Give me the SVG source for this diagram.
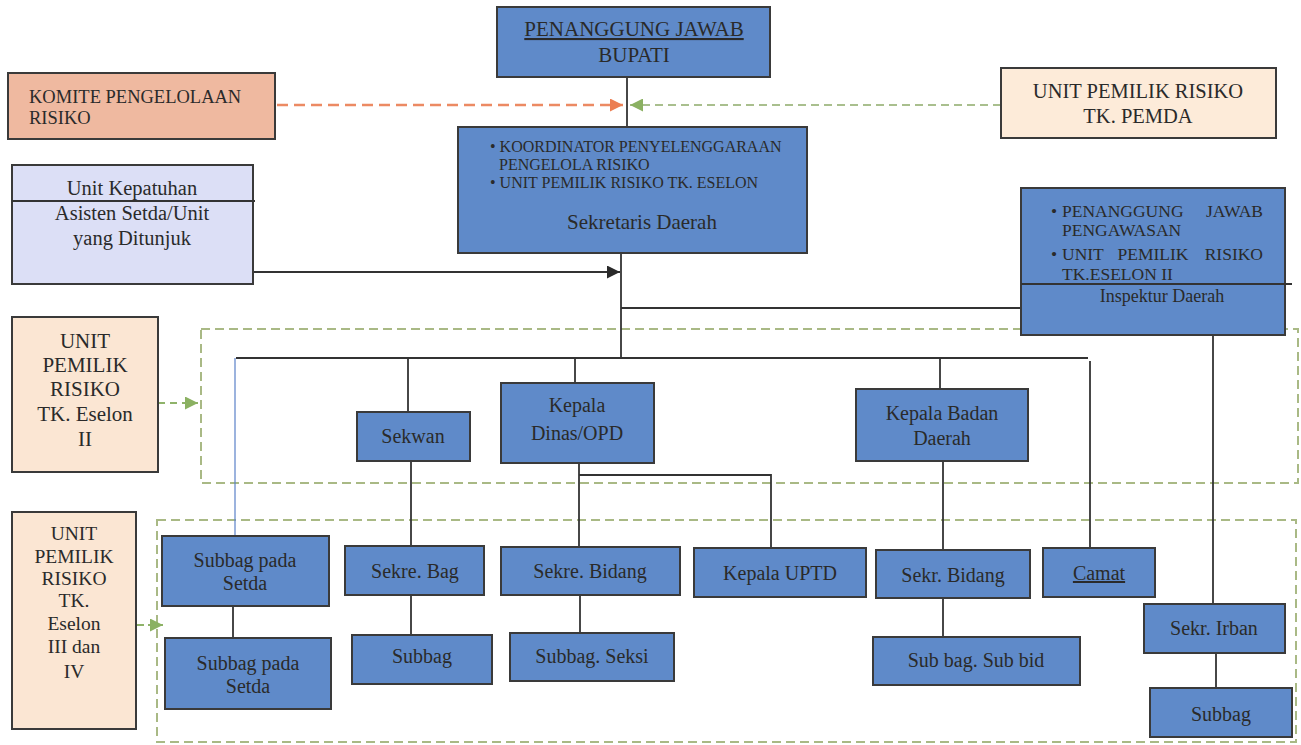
<svg xmlns="http://www.w3.org/2000/svg" width="1301" height="745" viewBox="0 0 1301 745" font-family="'Liberation Serif','Times New Roman',serif">
<defs>
<style>
.bx{fill:#5f8ac9;stroke:#3a3a3a;stroke-width:2}
.pe{fill:#fbe6d3;stroke:#3a3a3a;stroke-width:2}
.ln{fill:none;stroke:#333;stroke-width:1.8}
.rg{fill:none;stroke:#a9b985;stroke-width:2;stroke-dasharray:9 5}
text{font-family:"Liberation Serif","Times New Roman",serif;fill:#2a2a2a}
.c{text-anchor:middle;font-size:20px}
.s{font-size:16px}
</style>
<marker id="ao" viewBox="0 0 10 10" refX="10" refY="5" markerWidth="15" markerHeight="13" markerUnits="userSpaceOnUse" orient="auto"><path d="M0,0 L10,5 L0,10 z" fill="#ec7e52"/></marker>
<marker id="ag" viewBox="0 0 10 10" refX="10" refY="5" markerWidth="14" markerHeight="13" markerUnits="userSpaceOnUse" orient="auto"><path d="M0,0 L10,5 L0,10 z" fill="#8bb162"/></marker>
<marker id="ab" viewBox="0 0 10 10" refX="10" refY="5" markerWidth="15" markerHeight="13" markerUnits="userSpaceOnUse" orient="auto"><path d="M0,0 L10,5 L0,10 z" fill="#2a2a2a"/></marker>
</defs>
<rect width="1301" height="745" fill="#ffffff"/>
<g id="regions">
<rect class="rg" x="201" y="329" width="1097" height="154"/>
<rect class="rg" x="157" y="520" width="1139" height="222"/>
</g>
<g id="connectors">
<line class="ln" x1="627" y1="77" x2="627" y2="127"/>
<line x1="277" y1="105" x2="623" y2="105" stroke="#ec8a63" stroke-width="2.5" stroke-dasharray="11 6" marker-end="url(#ao)"/>
<line x1="1001" y1="105" x2="630" y2="105" stroke="#a9bf8e" stroke-width="1.8" stroke-dasharray="8 5" marker-end="url(#ag)"/>
<line class="ln" x1="253" y1="272" x2="620" y2="272" stroke-width="2.2" marker-end="url(#ab)"/>
<line class="ln" x1="621" y1="253" x2="621" y2="358"/>
<line class="ln" x1="621" y1="308" x2="1021" y2="308"/>
<line class="ln" x1="236" y1="358" x2="1088" y2="358"/>
<line x1="235" y1="358" x2="235" y2="536" stroke="#5a80c8" stroke-width="1.2"/>
<line class="ln" x1="408" y1="358" x2="408" y2="412"/>
<line class="ln" x1="575" y1="358" x2="575" y2="383"/>
<line class="ln" x1="940" y1="358" x2="940" y2="389"/>
<line class="ln" x1="1090" y1="361" x2="1090" y2="548"/>
<line class="ln" x1="411" y1="461" x2="411" y2="546"/>
<line class="ln" x1="411" y1="595" x2="411" y2="635"/>
<line class="ln" x1="579" y1="463" x2="579" y2="547"/>
<polyline class="ln" points="579,475 771,475 771,548"/>
<line class="ln" x1="580" y1="595" x2="580" y2="633"/>
<line class="ln" x1="943" y1="461" x2="943" y2="550"/>
<line class="ln" x1="943" y1="598" x2="943" y2="637"/>
<line class="ln" x1="1213" y1="335" x2="1213" y2="604"/>
<line class="ln" x1="1216" y1="653" x2="1216" y2="688"/>
<line class="ln" x1="233" y1="606" x2="233" y2="638"/>
<line x1="158" y1="403" x2="198" y2="403" stroke="#8fb36a" stroke-width="2" stroke-dasharray="7 5" marker-end="url(#ag)"/>
<line x1="137" y1="625" x2="163" y2="625" stroke="#8fb36a" stroke-width="2" stroke-dasharray="7 4" marker-end="url(#ag)"/>
</g>
<g id="bupati">
<rect class="bx" x="497" y="7" width="273" height="70"/>
<text class="c" x="634" y="36" text-decoration="underline" style="font-size:21px">PENANGGUNG JAWAB</text>
<text class="c" x="634" y="62" style="font-size:21px">BUPATI</text>
</g>
<g id="komite">
<rect x="8" y="73" width="267" height="66" fill="#efb9a0" stroke="#3a3a3a" stroke-width="2"/>
<text x="29" y="103" style="font-size:18.5px">KOMITE PENGELOLAAN</text>
<text x="29" y="124" style="font-size:18.5px">RISIKO</text>
</g>
<g id="pemda">
<rect x="1001" y="68" width="275" height="70" fill="#fdebd9" stroke="#3a3a3a" stroke-width="2"/>
<text class="c" x="1138" y="98" style="font-size:20.5px">UNIT PEMILIK RISIKO</text>
<text class="c" x="1138" y="123" style="font-size:20.5px">TK. PEMDA</text>
</g>
<g id="sekda">
<rect class="bx" x="458" y="127" width="349" height="126"/>
<text class="s" x="490" y="152">• KOORDINATOR PENYELENGGARAAN</text>
<text class="s" x="499" y="170">PENGELOLA RISIKO</text>
<text class="s" x="490" y="188">• UNIT PEMILIK RISIKO TK. ESELON</text>
<text class="c" x="642" y="229" style="font-size:21px">Sekretaris Daerah</text>
</g>
<g id="kepatuhan">
<rect x="12" y="165" width="241" height="119" fill="#dcdff6" stroke="#3a3a3a" stroke-width="2"/>
<line x1="12" y1="201" x2="255" y2="201" stroke="#333" stroke-width="2"/>
<text class="c" x="132" y="195" style="font-size:20.5px">Unit Kepatuhan</text>
<text class="c" x="132" y="220" style="font-size:20.5px">Asisten Setda/Unit</text>
<text class="c" x="132" y="245" style="font-size:20.5px">yang Ditunjuk</text>
</g>
<g id="inspektur">
<rect class="bx" x="1021" y="188" width="264" height="147"/>
<line x1="1021" y1="284" x2="1292" y2="284" stroke="#333" stroke-width="2"/>
<g style="font-size:17.5px">
<text x="1051" y="217">•</text>
<text x="1062" y="217">PENANGGUNG</text>
<text x="1263" y="217" text-anchor="end">JAWAB</text>
<text x="1062" y="236">PENGAWASAN</text>
<text x="1051" y="260">•</text>
<text x="1062" y="260">UNIT</text>
<text x="1153" y="260" text-anchor="middle">PEMILIK</text>
<text x="1263" y="260" text-anchor="end">RISIKO</text>
<text x="1062" y="280">TK.ESELON II</text>
</g>
<text class="c" x="1162" y="302" style="font-size:18px">Inspektur Daerah</text>
</g>
<g id="eselon2">
<rect class="pe" x="12" y="317" width="146" height="155"/>
<text class="c" x="85" y="348" style="font-size:21px">UNIT</text>
<text class="c" x="85" y="372" style="font-size:21px">PEMILIK</text>
<text class="c" x="85" y="396" style="font-size:21px">RISIKO</text>
<text class="c" x="85" y="421" style="font-size:21px">TK. Eselon</text>
<text class="c" x="85" y="446" style="font-size:21px">II</text>
</g>
<g id="eselon34">
<rect class="pe" x="12" y="512" width="124" height="217"/>
<text class="c" x="74" y="540" style="font-size:19.5px">UNIT</text>
<text class="c" x="74" y="563" style="font-size:19.5px">PEMILIK</text>
<text class="c" x="74" y="585" style="font-size:19.5px">RISIKO</text>
<text class="c" x="74" y="607" style="font-size:19.5px">TK.</text>
<text class="c" x="74" y="630" style="font-size:19.5px">Eselon</text>
<text class="c" x="74" y="653" style="font-size:19.5px">III dan</text>
<text class="c" x="74" y="678" style="font-size:19.5px">IV</text>
</g>
<g id="sekwan">
<rect class="bx" x="357" y="412" width="113" height="49"/>
<text class="c" x="413" y="443">Sekwan</text>
</g>
<g id="kepala-dinas">
<rect class="bx" x="501" y="383" width="153" height="80"/>
<text class="c" x="577" y="412">Kepala</text>
<text class="c" x="577" y="440">Dinas/OPD</text>
</g>
<g id="kepala-badan">
<rect class="bx" x="856" y="389" width="172" height="72"/>
<text class="c" x="942" y="420">Kepala Badan</text>
<text class="c" x="942" y="445">Daerah</text>
</g>
<g id="subbag-setda-1">
<rect class="bx" x="162" y="536" width="167" height="70"/>
<text class="c" x="245" y="567">Subbag pada</text>
<text class="c" x="245" y="590">Setda</text>
</g>
<g id="subbag-setda-2">
<rect class="bx" x="165" y="638" width="166" height="71"/>
<text class="c" x="248" y="670">Subbag pada</text>
<text class="c" x="248" y="693">Setda</text>
</g>
<g id="sekre-bag">
<rect class="bx" x="345" y="546" width="139" height="49"/>
<text class="c" x="415" y="578">Sekre. Bag</text>
</g>
<g id="subbag-1">
<rect class="bx" x="352" y="635" width="140" height="49"/>
<text class="c" x="422" y="663">Subbag</text>
</g>
<g id="sekre-bidang">
<rect class="bx" x="501" y="547" width="179" height="48"/>
<text class="c" x="590" y="578">Sekre. Bidang</text>
</g>
<g id="subbag-seksi">
<rect class="bx" x="510" y="633" width="164" height="48"/>
<text class="c" x="592" y="663">Subbag. Seksi</text>
</g>
<g id="kepala-uptd">
<rect class="bx" x="694" y="548" width="172" height="49"/>
<text class="c" x="780" y="580">Kepala UPTD</text>
</g>
<g id="sekr-bidang">
<rect class="bx" x="876" y="550" width="154" height="48"/>
<text class="c" x="953" y="582">Sekr. Bidang</text>
</g>
<g id="sub-bag-sub-bid">
<rect class="bx" x="873" y="637" width="207" height="48"/>
<text class="c" x="976" y="667">Sub bag. Sub bid</text>
</g>
<g id="camat">
<rect class="bx" x="1043" y="548" width="112" height="49"/>
<text class="c" x="1099" y="580" text-decoration="underline">Camat</text>
</g>
<g id="sekr-irban">
<rect class="bx" x="1144" y="604" width="141" height="49"/>
<text class="c" x="1214" y="635">Sekr. Irban</text>
</g>
<g id="subbag-irban">
<rect class="bx" x="1150" y="688" width="142" height="49"/>
<text class="c" x="1221" y="721">Subbag</text>
</g>
</svg>
